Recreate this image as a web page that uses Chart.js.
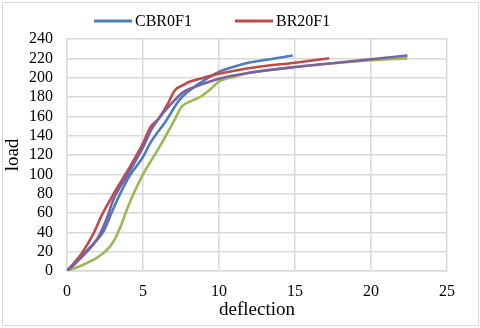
<!DOCTYPE html>
<html>
<head>
<meta charset="utf-8">
<script src="https://cdn.jsdelivr.net/npm/chart.js@4.4.1/dist/chart.umd.min.js"></script>
<style>
  html, body { margin: 0; padding: 0; background: #fff; }
  #wrap { width: 480px; height: 328px; position: relative; }
</style>
</head>
<body>
<div id="wrap"><canvas id="loadChart" width="480" height="328"></canvas></div>
<script>
// series names (only the first two appear in the legend)
const seriesNames = ['CBR0F1', 'BR20F1', 'Series3', 'Series4'];
const seriesColors = ['#4A7EBB', '#BE4B48', '#98B954', '#7D60A0'];

// CBR0F1 (blue)
const blueDefl = [0, 0.5, 1, 1.85, 2.4, 2.95, 3.5, 4.1, 5, 5.5, 6.5, 7.4, 8, 9, 10, 10.7, 11.8, 13.35, 14.85];
const blueLoad = [0, 7, 16, 30, 41, 61, 80, 98, 118, 133, 155, 177, 186, 197, 206, 210, 215, 219, 223];

// BR20F1 (red)
const redDefl = [0, 0.5, 1, 1.75, 2.3, 3, 4, 5, 5.5, 6, 6.6, 7.1, 7.6, 8.1, 9, 10, 12.5, 15, 17.25];
const redLoad = [0, 9, 19, 39, 58, 78, 104, 132, 149, 157, 172, 187, 192, 196, 200, 204, 211, 215.5, 220];

// third series (green)
const greenDefl = [0, 1, 2, 2.5, 3, 3.5, 4, 4.5, 5, 6, 7, 7.55, 8.2, 8.75, 9.5, 10, 11, 12, 15, 20, 22.4];
const greenLoad = [0, 6, 14, 20, 29, 45, 66, 84, 100, 126, 154, 170, 176, 180, 189, 196, 201, 205, 211, 218, 220];

// fourth series (purple)
const purpleDefl = [0, 1, 1.7, 2.1, 2.75, 3, 4, 5, 5.5, 6, 7.1, 7.65, 8.5, 10, 12, 15, 20, 22.4];
const purpleLoad = [0, 15, 27, 36, 60, 72, 100, 128, 145, 157, 177, 185, 191, 199, 205, 211, 219, 223];

// axis ticks
const xTicks = [0, 5, 10, 15, 20, 25];
const yTicks = [0, 20, 40, 60, 80, 100, 120, 140, 160, 180, 200, 220, 240];

const serif = "'Liberation Serif', 'Times New Roman', serif";

function toPoints(xs, ys) {
    return xs.map((x, i) => ({ x: x, y: ys[i] }));
}

const allX = [blueDefl, redDefl, greenDefl, purpleDefl];
const allY = [blueLoad, redLoad, greenLoad, purpleLoad];
const drawOrder = [4, 3, 2, 1]; // last series on top, like the original

const datasets = seriesNames.map((name, i) => ({
    label: name,
    data: toPoints(allX[i], allY[i]),
    borderColor: seriesColors[i],
    backgroundColor: seriesColors[i],
    borderWidth: 2.6,
    pointRadius: 0,
    showLine: true,
    cubicInterpolationMode: 'monotone',
    order: drawOrder[i]
}));

// white background and outer frame
const framePlugin = {
    id: 'frame',
    beforeDraw(chart) {
        const ctx = chart.ctx;
        ctx.save();
        ctx.fillStyle = '#fff';
        ctx.fillRect(0, 0, chart.width, chart.height);
        ctx.strokeStyle = '#d9d9d9';
        ctx.lineWidth = 1;
        ctx.strokeRect(2.5, 2.5, chart.width - 4, chart.height - 5);
        ctx.restore();
    }
};

// legend as in the picture: only first two series shown
const lineLegend = {
    id: 'lineLegend',
    afterDraw(chart) {
        const ctx = chart.ctx;
        const starts = [94, 235];
        ctx.save();
        ctx.font = '16px ' + serif;
        ctx.textBaseline = 'middle';
        starts.forEach((sx, i) => {
            const ds = chart.data.datasets[i];
            ctx.strokeStyle = ds.borderColor;
            ctx.lineWidth = 3;
            ctx.beginPath();
            ctx.moveTo(sx, 21);
            ctx.lineTo(sx + 38, 21);
            ctx.stroke();
            ctx.fillStyle = '#000';
            ctx.fillText(ds.label, sx + 41, 22);
        });
        ctx.restore();
    }
};

new Chart(document.getElementById('loadChart'), {
    type: 'scatter',
    data: { datasets: datasets },
    plugins: [framePlugin, lineLegend],
    options: {
        responsive: false,
        animation: false,
        layout: { padding: { top: 39, right: 33, bottom: 0, left: 0 } },
        plugins: {
            legend: { display: false },
            tooltip: { enabled: false }
        },
        scales: {
            x: {
                min: xTicks[0],
                max: xTicks[xTicks.length - 1],
                afterBuildTicks: scale => { scale.ticks = xTicks.map(v => ({ value: v })); },
                afterFit: scale => { scale.height = 57; },
                ticks: { color: '#000', font: { family: serif, size: 16 }, padding: 11, autoSkip: false, maxRotation: 0 },
                grid: { color: '#d9d9d9', lineWidth: 1.5, drawTicks: false },
                border: { color: '#d9d9d9', width: 1.5 },
                title: {
                    display: true,
                    text: 'deflection',
                    color: '#000',
                    font: { family: serif, size: 19 },
                    padding: { top: 0, bottom: 7 }
                }
            },
            y: {
                min: yTicks[0],
                max: yTicks[yTicks.length - 1],
                afterBuildTicks: scale => { scale.ticks = yTicks.map(v => ({ value: v })); },
                afterFit: scale => { scale.width = 67; },
                ticks: { color: '#000', font: { family: serif, size: 16 }, padding: 14, autoSkip: false },
                grid: { color: '#d9d9d9', lineWidth: 1.5, drawTicks: false },
                border: { color: '#d9d9d9', width: 1.5 },
                title: {
                    display: true,
                    text: 'load',
                    color: '#000',
                    font: { family: serif, size: 19 },
                    padding: { top: 2, bottom: 0 }
                }
            }
        }
    }
});
</script>
</body>
</html>
